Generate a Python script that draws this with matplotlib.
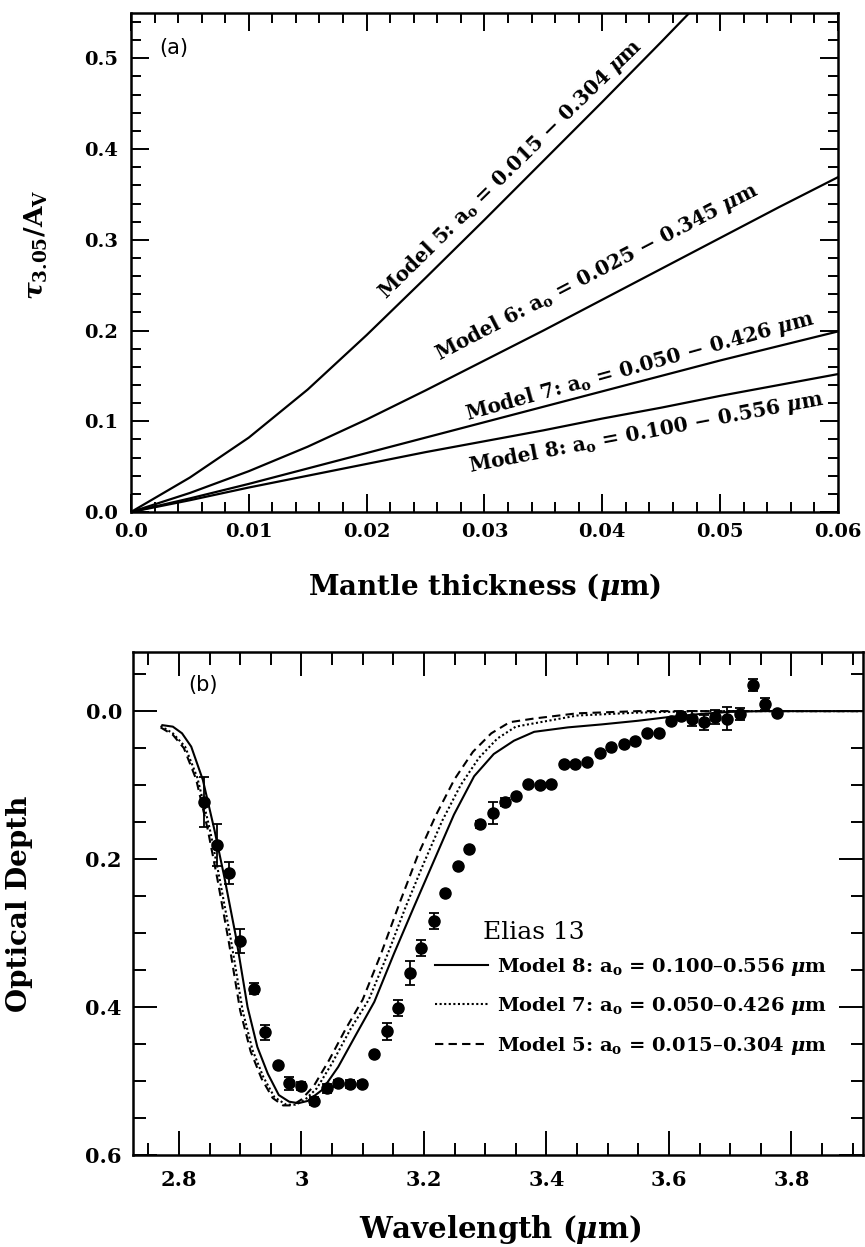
import numpy as np
import matplotlib
matplotlib.use("Agg")
from matplotlib import pyplot as plt
from matplotlib.ticker import MultipleLocator, FuncFormatter

plt.rcParams["font.family"] = ["DejaVu Serif"]
plt.rcParams["font.weight"] = "bold"
plt.rcParams["axes.labelweight"] = "bold"
plt.rcParams["mathtext.fontset"] = "dejavuserif"

# ---- panel (a): tau_3.05 / A_V vs mantle thickness ----
mantle = [0.0, 0.005, 0.01, 0.015, 0.02, 0.025, 0.03, 0.035, 0.04, 0.045, 0.05, 0.055, 0.06]
model5 = [0.0, 0.038, 0.082, 0.135, 0.195, 0.258, 0.322, 0.387, 0.452, 0.518, 0.585, 0.652, 0.720]
model6 = [0.0, 0.021, 0.045, 0.072, 0.102, 0.134, 0.167, 0.200, 0.234, 0.268, 0.302, 0.336, 0.369]
model7 = [0.0, 0.015, 0.031, 0.048, 0.065, 0.082, 0.099, 0.116, 0.133, 0.150, 0.167, 0.183, 0.199]
model8 = [0.0, 0.013, 0.027, 0.040, 0.053, 0.066, 0.078, 0.090, 0.103, 0.115, 0.128, 0.140, 0.152]

labels_a = [
    "Model 5: a$_\\mathbf{o}$ = 0.015 \u2212 0.304 $\\mu$m",
    "Model 6: a$_\\mathbf{o}$ = 0.025 \u2212 0.345 $\\mu$m",
    "Model 7: a$_\\mathbf{o}$ = 0.050 \u2212 0.426 $\\mu$m",
    "Model 8: a$_\\mathbf{o}$ = 0.100 \u2212 0.556 $\\mu$m",
]

# ---- panel (b): Elias 13 optical depth ----
obs_wl = [2.841, 2.862, 2.882, 2.900, 2.922, 2.940, 2.961, 2.979, 3.000, 3.020,
          3.041, 3.059, 3.080, 3.099, 3.118, 3.139, 3.157, 3.178, 3.196, 3.216,
          3.235, 3.255, 3.274, 3.292, 3.312, 3.332, 3.351, 3.370, 3.389, 3.407,
          3.428, 3.447, 3.466, 3.487, 3.506, 3.526, 3.545, 3.564, 3.584, 3.603,
          3.620, 3.638, 3.657, 3.676, 3.695, 3.716, 3.737, 3.757, 3.777]
obs_tau = [0.123, 0.181, 0.219, 0.311, 0.375, 0.434, 0.478, 0.503, 0.507, 0.527,
           0.510, 0.503, 0.504, 0.504, 0.464, 0.433, 0.401, 0.354, 0.320, 0.284,
           0.246, 0.210, 0.186, 0.153, 0.138, 0.123, 0.115, 0.099, 0.100, 0.099,
           0.071, 0.071, 0.069, 0.057, 0.049, 0.045, 0.040, 0.029, 0.029, 0.013,
           0.006, 0.010, 0.015, 0.008, 0.010, 0.004, -0.035, -0.010, 0.003]
obs_err = [0.034, 0.029, 0.015, 0.016, 0.008, 0.010, 0.0, 0.009, 0.005, 0.005,
           0.006, 0.005, 0.005, 0.004, 0.0, 0.011, 0.011, 0.016, 0.011, 0.011,
           0.0, 0.0, 0.0, 0.005, 0.015, 0.005, 0.0, 0.0, 0.0, 0.0,
           0.0, 0.0, 0.0, 0.0, 0.0, 0.0, 0.0, 0.0, 0.0, 0.0,
           0.005, 0.010, 0.010, 0.010, 0.015, 0.008, 0.008, 0.008, 0.0]

m8_wl = [2.773, 2.790, 2.805, 2.820, 2.839, 2.858, 2.874, 2.893, 2.912, 2.928, 2.945,
         2.963, 2.980, 2.995, 3.010, 3.034, 3.060, 3.090, 3.119, 3.151, 3.184, 3.216,
         3.249, 3.282, 3.314, 3.347, 3.380, 3.435, 3.490, 3.550, 3.600, 3.650, 3.700,
         3.750, 3.800, 3.915]
m8_tau = [0.019, 0.021, 0.030, 0.048, 0.093, 0.161, 0.224, 0.305, 0.400, 0.454, 0.490,
          0.519, 0.528, 0.530, 0.527, 0.512, 0.481, 0.436, 0.393, 0.328, 0.264, 0.203,
          0.140, 0.088, 0.058, 0.040, 0.028, 0.022, 0.018, 0.013, 0.008, 0.004, 0.001,
          0.0, 0.0, 0.0]

m7_wl = [2.770, 2.790, 2.810, 2.830, 2.850, 2.866, 2.885, 2.904, 2.920, 2.938, 2.956,
         2.975, 2.990, 3.005, 3.025, 3.050, 3.080, 3.110, 3.141, 3.170, 3.200, 3.230,
         3.260, 3.290, 3.320, 3.350, 3.390, 3.450, 3.550, 3.650, 3.915]
m7_tau = [0.020, 0.030, 0.048, 0.090, 0.158, 0.225, 0.310, 0.405, 0.458, 0.495, 0.522,
          0.532, 0.532, 0.526, 0.510, 0.476, 0.430, 0.390, 0.328, 0.265, 0.205, 0.148,
          0.100, 0.063, 0.037, 0.021, 0.015, 0.006, 0.002, 0.0, 0.0]

m5_wl = [2.770, 2.790, 2.808, 2.828, 2.847, 2.863, 2.882, 2.900, 2.917, 2.935, 2.953,
         2.970, 2.985, 3.000, 3.020, 3.045, 3.072, 3.100, 3.130, 3.160, 3.190, 3.220,
         3.250, 3.280, 3.310, 3.340, 3.380, 3.450, 3.550, 3.915]
m5_tau = [0.022, 0.032, 0.050, 0.092, 0.160, 0.228, 0.315, 0.405, 0.460, 0.497, 0.523,
          0.533, 0.533, 0.525, 0.507, 0.472, 0.430, 0.390, 0.328, 0.260, 0.195, 0.140,
          0.092, 0.055, 0.030, 0.015, 0.010, 0.003, 0.0, 0.0]

labels_b = [
    "Model 8: a$_\\mathbf{o}$ = 0.100\u20130.556 $\\mu$m",
    "Model 7: a$_\\mathbf{o}$ = 0.050\u20130.426 $\\mu$m",
    "Model 5: a$_\\mathbf{o}$ = 0.015\u20130.304 $\\mu$m",
]


def style_axes(ax, major_len, minor_len, labelsize, xpad, ypad):
    for sp in ax.spines.values():
        sp.set_linewidth(1.8)
    ax.tick_params(which="both", direction="in", top=True, right=True,
                   width=1.4, labelsize=labelsize)
    ax.tick_params(which="major", length=major_len)
    ax.tick_params(which="minor", length=minor_len)
    ax.tick_params(axis="x", which="both", pad=xpad)
    ax.tick_params(axis="y", which="both", pad=ypad)


fig = plt.figure(figsize=(8.65, 12.47), dpi=100)

# panel (a)
ax1 = fig.add_axes([0.1514, 0.5894, 0.8173, 0.4002])
for y in (model5, model6, model7, model8):
    ax1.plot(mantle, y, color="black", lw=1.6)
ax1.set_xlim(0, 0.06)
ax1.set_ylim(0, 0.55)
ax1.xaxis.set_major_locator(MultipleLocator(0.01))
ax1.xaxis.set_minor_locator(MultipleLocator(0.002))
ax1.yaxis.set_major_locator(MultipleLocator(0.1))
ax1.yaxis.set_minor_locator(MultipleLocator(0.02))
ax1.xaxis.set_major_formatter(FuncFormatter(lambda v, p: "0.0" if abs(v) < 1e-9 else "%.2f" % v))
ax1.yaxis.set_major_formatter(FuncFormatter(lambda v, p: "%.1f" % v))
style_axes(ax1, 13, 7, 14, 8, 9)
ax1.set_xlabel("Mantle thickness ($\\mu$m)", fontsize=20)
ax1.xaxis.set_label_coords(0.5, -0.118)
ax1.set_ylabel("$\\tau_{\\mathbf{3.05}}/\\mathbf{A_V}$", fontsize=19)
ax1.yaxis.set_label_coords(-0.115, 0.535)
ax1.text(0.04, 0.93, "(a)", transform=ax1.transAxes, family="DejaVu Sans",
         weight="normal", fontsize=15, ha="left", va="center")

# rotated labels along the curves: (x, y, angle)
ax1.text(0.0322, 0.378, labels_a[0], rotation=44.5, rotation_mode="anchor",
         ha="center", va="center", fontsize=14.5)
ax1.text(0.0395, 0.265, labels_a[1], rotation=27.5, rotation_mode="anchor",
         ha="center", va="center", fontsize=14.5)
ax1.text(0.0432, 0.161, labels_a[2], rotation=15.5, rotation_mode="anchor",
         ha="center", va="center", fontsize=14.5)
ax1.text(0.0437, 0.088, labels_a[3], rotation=10.8, rotation_mode="anchor",
         ha="center", va="center", fontsize=14.5)

# panel (b)
ax2 = fig.add_axes([0.1538, 0.0738, 0.8439, 0.4034])
l8, = ax2.plot(m8_wl, m8_tau, color="black", lw=1.5, ls="-")
l7, = ax2.plot(m7_wl, m7_tau, color="black", lw=1.5, ls=(0, (1, 1.2)))
l5, = ax2.plot(m5_wl, m5_tau, color="black", lw=1.5, ls=(0, (4, 2.5)))
ax2.errorbar(obs_wl, obs_tau, yerr=obs_err, fmt="o", color="black", ms=8,
             elinewidth=1.3, capsize=3.5, capthick=1.3)
ax2.set_xlim(2.725, 3.917)
ax2.set_ylim(0.6, -0.08)
ax2.xaxis.set_major_locator(MultipleLocator(0.2))
ax2.xaxis.set_minor_locator(MultipleLocator(0.05))
ax2.yaxis.set_major_locator(MultipleLocator(0.2))
ax2.yaxis.set_minor_locator(MultipleLocator(0.05))
ax2.xaxis.set_major_formatter(FuncFormatter(lambda v, p: "%g" % round(v, 2)))
ax2.yaxis.set_major_formatter(FuncFormatter(lambda v, p: "%.1f" % abs(v)))
style_axes(ax2, 17, 9, 15, 11, 8)
ax2.set_xlabel("Wavelength ($\\mu$m)", fontsize=21)
ax2.xaxis.set_label_coords(0.503, -0.115)
ax2.set_ylabel("Optical Depth", fontsize=20)
ax2.yaxis.set_label_coords(-0.137, 0.5)
ax2.text(0.075, 0.935, "(b)", transform=ax2.transAxes, family="DejaVu Sans",
         weight="normal", fontsize=15, ha="left", va="center")
ax2.text(0.479, 0.443, "Elias 13", transform=ax2.transAxes, weight="normal",
         fontsize=18, ha="left", va="center")
ax2.legend([l8, l7, l5], labels_b, loc="upper left", bbox_to_anchor=(0.414, 0.396),
           frameon=False, fontsize=14, handlelength=2.7, handletextpad=0.5,
           labelspacing=0.9, borderpad=0, borderaxespad=0)

fig.savefig("out.png", dpi=100)
